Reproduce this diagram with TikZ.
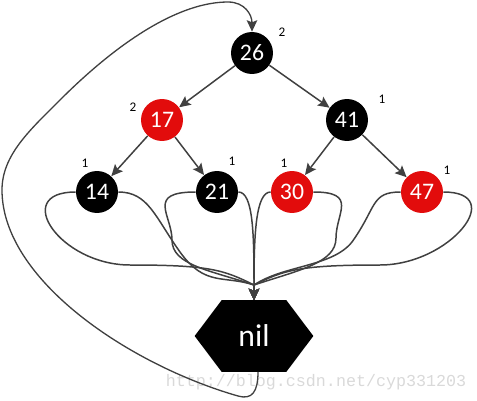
\documentclass[tikz,border=0pt]{standalone}
\usepackage{fontspec}
\setmainfont{Carlito}
\newfontfamily\wmfont{Liberation Mono}
\usetikzlibrary{arrows.meta,backgrounds}
\definecolor{rbred}{RGB}{226,12,12}
\definecolor{edgegray}{RGB}{64,64,64}
\begin{document}
\begin{tikzpicture}[x=0.02cm, y=0.02cm,
  rbnode/.style={circle, minimum size=0.84cm, inner sep=0pt, text=white,
    font=\fontsize{13.5}{16}\selectfont},
  blacknode/.style={rbnode, fill=black},
  rednode/.style={rbnode, fill=rbred},
  nilbox/.style={minimum width=2.36cm, minimum height=1.42cm, inner sep=0pt,
    text=white, font=\fontsize{18}{20}\selectfont},
  bh/.style={font=\fontsize{7.5}{9}\selectfont},
  treeedge/.style={-{Stealth[length=6.5pt,width=6pt,inset=1.2pt]}, edgegray, line width=0.85pt}]
  \useasboundingbox (0,0) rectangle (477,400);
  % Watermark
  \node (wm) [font=\wmfont\fontsize{9.5}{11}\selectfont, text=gray!30] at (316,18) {http://blog.csdn.net/cyp331203};
  % Tree nodes
  \node (n26) [blacknode] at (252,347) {26};
  \node (n17) [rednode]   at (162,280) {17};
  \node (n41) [blacknode] at (347,280) {41};
  \node (n14) [blacknode] at (97,208)  {14};
  \node (n21) [blacknode] at (217,208) {21};
  \node (n30) [rednode]   at (292,208) {30};
  \node (n47) [rednode]   at (422,208) {47};
  % Black heights
  \node (h26) [bh] at (282,368) {2};
  \node (h17) [bh] at (133,293) {2};
  \node (h41) [bh] at (382,301) {1};
  \node (h14) [bh] at (85,237)  {1};
  \node (h21) [bh] at (232,239) {1};
  \node (h30) [bh] at (284,237) {1};
  \node (h47) [bh] at (447,230) {1};
  % Sentinel
  \node (nil) [nilbox] at (254,64) {nil};
  \begin{scope}[on background layer]
    \fill ([xshift=0.54cm]nil.north west) -- ([xshift=-0.54cm]nil.north east) -- (nil.east)
      -- ([xshift=-0.54cm]nil.south east) -- ([xshift=0.54cm]nil.south west) -- (nil.west) -- cycle;
  \end{scope}
  % Tree edges
  \foreach \a/\b in {n26/n17, n26/n41, n17/n14, n17/n21, n41/n30, n41/n47} {
    \draw[treeedge] (\a) -- (\b);
  }
  % Leaves to nil
  \coordinate (merge) at (254,115);
  \draw[treeedge] (n14.west) .. controls +(-65,0) and +(-70,0) .. (130,135)
    .. controls +(80,0) and +(-30,15) .. (merge) -- (nil.north);
  \draw[treeedge] (n14.east) .. controls +(30,0) and +(-25,35) .. (180,148)
    .. controls +(25,-35) and +(-30,10) .. (merge) -- (nil.north);
  \draw[treeedge] (n21.west) .. controls +(-50,0) and +(0,25) .. (172,160)
    .. controls +(0,-25) and +(-45,15) .. (merge) -- (nil.north);
  \draw[treeedge] (n21.east) .. controls +(15,0) and +(0,50) .. (merge) -- (nil.north);
  \draw[treeedge] (n30.west) .. controls +(-15,0) and +(0,50) .. (merge) -- (nil.north);
  \draw[treeedge] (n30.east) .. controls +(45,0) and +(0,25) .. (336,162)
    .. controls +(0,-25) and +(45,15) .. (merge) -- (nil.north);
  \draw[treeedge] (n47.west) .. controls +(-30,0) and +(25,35) .. (352,158)
    .. controls +(-20,-25) and +(30,20) .. (merge) -- (nil.north);
  \draw[treeedge] (n47.east) .. controls +(65,0) and +(70,0) .. (380,135)
    .. controls +(-80,0) and +(30,15) .. (merge) -- (nil.north);
  % nil back to root
  \draw[treeedge, line width=0.75pt] ([xshift=0.08cm]nil.south) .. controls (258,8) and (252,0) .. (238,4)
    .. controls (130,35) and (2,120) .. (2,210)
    .. controls (2,245) and (30,270) .. (60,300)
    .. controls (120,360) and (180,398) .. (228,398)
    .. controls (245,398) and (252,385) .. (n26.north);
\end{tikzpicture}
\end{document}
